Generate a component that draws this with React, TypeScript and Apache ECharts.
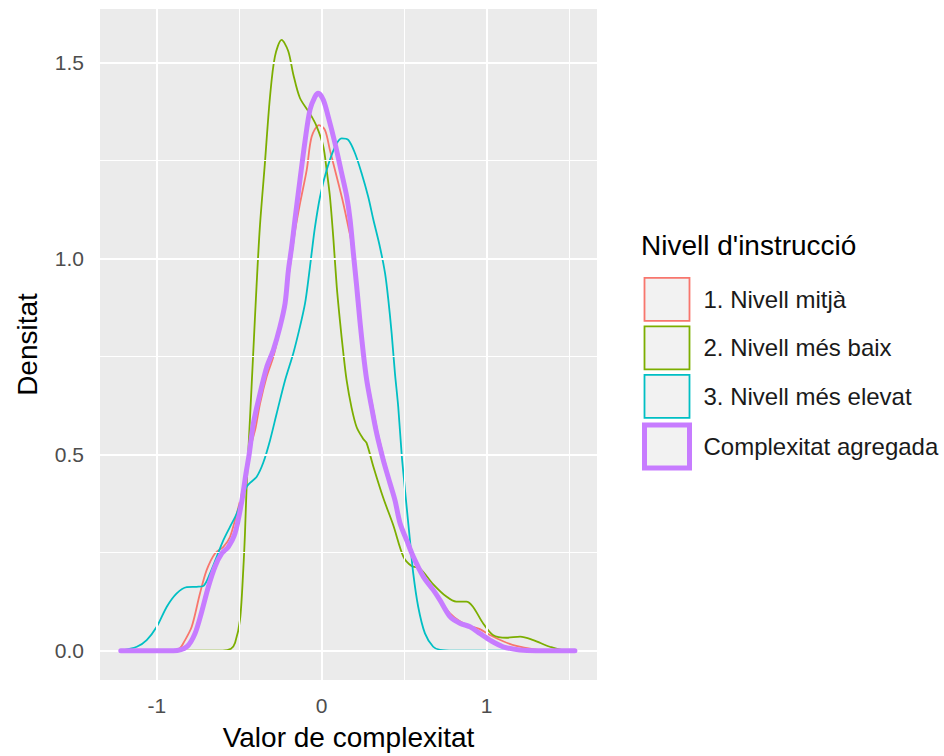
import React, { useEffect, useRef } from "react";
import * as echarts from "echarts";

const seriesNames = [
  "1. Nivell mitjà",
  "2. Nivell més baix",
  "3. Nivell més elevat",
  "Complexitat agregada",
];
const seriesColors = ["#F8766D", "#7CAE00", "#00BFC4", "#C77CFF"];

const nivellMitja: [number, number][] = [
  [-1.218, 0], [-0.9, 0], [-0.86, 0.006], [-0.839, 0.019], [-0.788, 0.061], [-0.738, 0.146],
  [-0.697, 0.206], [-0.647, 0.248], [-0.596, 0.265], [-0.556, 0.29], [-0.515, 0.35],
  [-0.485, 0.4], [-0.455, 0.46], [-0.424, 0.53], [-0.4, 0.57], [-0.374, 0.63], [-0.333, 0.7],
  [-0.293, 0.75], [-0.253, 0.82], [-0.222, 0.88], [-0.202, 0.95], [-0.182, 1.01],
  [-0.162, 1.07], [-0.132, 1.14], [-0.091, 1.226], [-0.061, 1.311], [-0.016, 1.341],
  [0.02, 1.328], [0.05, 1.277], [0.091, 1.209], [0.131, 1.141], [0.161, 1.082],
  [0.195, 1.01], [0.215, 0.93], [0.235, 0.84], [0.255, 0.76], [0.278, 0.69], [0.31, 0.62],
  [0.34, 0.555], [0.38, 0.487], [0.42, 0.42], [0.45, 0.37], [0.475, 0.325], [0.515, 0.28],
  [0.555, 0.24], [0.616, 0.19], [0.676, 0.155], [0.717, 0.13], [0.778, 0.095],
  [0.838, 0.075], [0.899, 0.063], [0.959, 0.055], [1.02, 0.04], [1.1, 0.024],
  [1.18, 0.012], [1.28, 0.004], [1.4, 0], [1.535, 0],
];

const nivellMesBaix: [number, number][] = [
  [-1.218, 0], [-0.6, 0], [-0.55, 0.005], [-0.525, 0.02], [-0.495, 0.08], [-0.475, 0.21],
  [-0.465, 0.3], [-0.455, 0.42], [-0.435, 0.59], [-0.415, 0.76], [-0.395, 0.93],
  [-0.375, 1.08], [-0.345, 1.24], [-0.314, 1.41], [-0.284, 1.515], [-0.243, 1.558],
  [-0.203, 1.53], [-0.172, 1.47], [-0.132, 1.41], [-0.071, 1.37], [-0.03, 1.337],
  [0.01, 1.286], [0.03, 1.226], [0.05, 1.158], [0.071, 1.05], [0.091, 0.93], [0.111, 0.84],
  [0.131, 0.76], [0.151, 0.69], [0.181, 0.62], [0.212, 0.57], [0.252, 0.54], [0.272, 0.53],
  [0.313, 0.47], [0.373, 0.39], [0.434, 0.32], [0.495, 0.24], [0.545, 0.216], [0.595, 0.21],
  [0.675, 0.17], [0.756, 0.138], [0.816, 0.125], [0.877, 0.125], [0.917, 0.112],
  [0.978, 0.07], [1.038, 0.04], [1.12, 0.033], [1.203, 0.036], [1.283, 0.027],
  [1.383, 0.01], [1.485, 0], [1.535, 0],
];

const nivellMesElevat: [number, number][] = [
  [-1.218, 0], [-1.121, 0.01], [-1.061, 0.027], [-1.0, 0.061], [-0.939, 0.112],
  [-0.879, 0.146], [-0.818, 0.162], [-0.758, 0.163], [-0.718, 0.165], [-0.677, 0.197],
  [-0.636, 0.24], [-0.596, 0.282], [-0.556, 0.316], [-0.515, 0.35], [-0.455, 0.418],
  [-0.394, 0.444], [-0.354, 0.48], [-0.313, 0.537], [-0.273, 0.605], [-0.222, 0.69],
  [-0.172, 0.759], [-0.132, 0.826], [-0.101, 0.886], [-0.081, 0.946], [-0.061, 1.014],
  [-0.041, 1.08], [-0.01, 1.158], [0.03, 1.226], [0.081, 1.286], [0.121, 1.307],
  [0.161, 1.303], [0.202, 1.269], [0.242, 1.218], [0.282, 1.158], [0.313, 1.1],
  [0.353, 1.03], [0.384, 0.963], [0.404, 0.895], [0.424, 0.81], [0.444, 0.708],
  [0.464, 0.622], [0.485, 0.5], [0.505, 0.41], [0.515, 0.367], [0.535, 0.282],
  [0.555, 0.197], [0.585, 0.112], [0.626, 0.044], [0.676, 0.01], [0.717, 0.002],
  [0.8, 0], [1.535, 0],
];

const complexitatAgregada: [number, number][] = [
  [-1.218, 0], [-0.9, 0], [-0.818, 0.01], [-0.768, 0.044], [-0.727, 0.1], [-0.687, 0.163],
  [-0.647, 0.214], [-0.606, 0.248], [-0.566, 0.265], [-0.525, 0.3], [-0.485, 0.38],
  [-0.46, 0.45], [-0.44, 0.5], [-0.414, 0.58], [-0.374, 0.656], [-0.333, 0.724],
  [-0.293, 0.767], [-0.253, 0.826], [-0.222, 0.886], [-0.202, 0.97], [-0.182, 1.03],
  [-0.162, 1.1], [-0.132, 1.2], [-0.101, 1.3], [-0.071, 1.38], [-0.041, 1.413],
  [-0.021, 1.422], [0.01, 1.405], [0.04, 1.362], [0.081, 1.294], [0.121, 1.218],
  [0.152, 1.158], [0.172, 1.1], [0.192, 1.014], [0.212, 0.93], [0.232, 0.84], [0.252, 0.76],
  [0.273, 0.69], [0.303, 0.62], [0.333, 0.555], [0.373, 0.487], [0.414, 0.427],
  [0.444, 0.384], [0.475, 0.325], [0.515, 0.282], [0.555, 0.24], [0.616, 0.189],
  [0.676, 0.155], [0.717, 0.129], [0.778, 0.087], [0.838, 0.07], [0.899, 0.061],
  [0.959, 0.044], [1.02, 0.027], [1.1, 0.01], [1.2, 0.002], [1.3, 0], [1.535, 0],
];

const xTicks = [-1, 0, 1];
const xMinorGrid = [-0.5, 0.5, 1.5];
const yTicks = [0, 0.5, 1, 1.5];
const yMinorGrid = [0.25, 0.75, 1.25];

const allSeries = [nivellMitja, nivellMesBaix, nivellMesElevat, complexitatAgregada];
const lineWidths = [1.8, 1.8, 1.8, 5];

const FONT = "Liberation Sans, Arial, sans-serif";

export default function App() {
  const ref = useRef<HTMLDivElement>(null);
  useEffect(() => {
    document.body.style.margin = "0";
    if (!ref.current) return;
    const chart = echarts.init(ref.current, undefined, { renderer: "svg" });
    const gridLines: any[] = [];
    xTicks.forEach((v) => gridLines.push({ xAxis: v, lineStyle: { width: 2 } }));
    xMinorGrid.forEach((v) => gridLines.push({ xAxis: v, lineStyle: { width: 1 } }));
    yTicks.forEach((v) => gridLines.push({ yAxis: v, lineStyle: { width: 2 } }));
    yMinorGrid.forEach((v) => gridLines.push({ yAxis: v, lineStyle: { width: 1 } }));

    const option: any = {
      animation: false,
      backgroundColor: "#FFFFFF",
      textStyle: { fontFamily: FONT },
      title: {
        text: "Nivell d'instrucció",
        left: 641,
        top: 231,
        padding: 0,
        textStyle: { fontSize: 28, fontWeight: "normal", color: "#000000", fontFamily: FONT },
      },
      legend: {
        orient: "vertical",
        left: 642,
        top: 277,
        padding: 0,
        icon: "rect",
        itemWidth: 45,
        itemHeight: 43,
        itemGap: 3.7,
        selectedMode: false,
        textStyle: { fontSize: 24, color: "#1A1A1A", fontFamily: FONT, padding: [0, 0, 0, 9] },
        data: seriesNames.map((n, i) => ({
          name: n,
          itemStyle: {
            color: "#F2F2F2",
            borderColor: seriesColors[i],
            borderWidth: i === 3 ? 5 : 1.8,
          },
        })),
      },
      grid: {
        left: 100,
        top: 9,
        width: 497,
        height: 671,
        show: true,
        backgroundColor: "#EBEBEB",
        borderWidth: 0,
      },
      xAxis: {
        type: "value",
        min: -1.344,
        max: 1.669,
        name: "Valor de complexitat",
        nameLocation: "middle",
        nameGap: 43,
        nameTextStyle: { fontSize: 28, color: "#000000", fontFamily: FONT },
        axisLine: { show: false },
        splitLine: { show: false },
        axisTick: { show: true, length: 7, customValues: xTicks, lineStyle: { color: "#333333", width: 1.5 } },
        axisLabel: {
          customValues: xTicks,
          fontSize: 21,
          color: "#4D4D4D",
          margin: 15,
          fontFamily: FONT,
          formatter: (v: number) => String(v),
        },
      },
      yAxis: {
        type: "value",
        min: -0.0748,
        max: 1.637,
        name: "Densitat",
        nameLocation: "middle",
        nameGap: 59,
        nameRotate: 90,
        nameTextStyle: { fontSize: 28, color: "#000000", fontFamily: FONT },
        axisLine: { show: false },
        splitLine: { show: false },
        axisTick: { show: true, length: 7, customValues: yTicks, lineStyle: { color: "#333333", width: 1.5 } },
        axisLabel: {
          customValues: yTicks,
          fontSize: 21,
          color: "#4D4D4D",
          margin: 16,
          fontFamily: FONT,
          formatter: (v: number) => v.toFixed(1),
        },
      },
      series: [
        {
          name: "__grid",
          type: "line",
          data: [],
          silent: true,
          z: 1,
          markLine: {
            silent: true,
            symbol: ["none", "none"],
            label: { show: false },
            lineStyle: { color: "#FFFFFF", type: "solid", width: 2 },
            emphasis: { disabled: true },
            data: gridLines,
          },
        },
        ...allSeries.map((d, i) => ({
          name: seriesNames[i],
          type: "line",
          data: d,
          showSymbol: false,
          symbol: "none",
          smooth: 0.3,
          z: 2 + i,
          lineStyle: { color: seriesColors[i], width: lineWidths[i], join: "round", cap: "round" },
          itemStyle: { color: seriesColors[i] },
        })),
      ],
    };
    chart.setOption(option);
    return () => chart.dispose();
  }, []);
  return <div ref={ref} style={{ width: 944, height: 756 }} />;
}
